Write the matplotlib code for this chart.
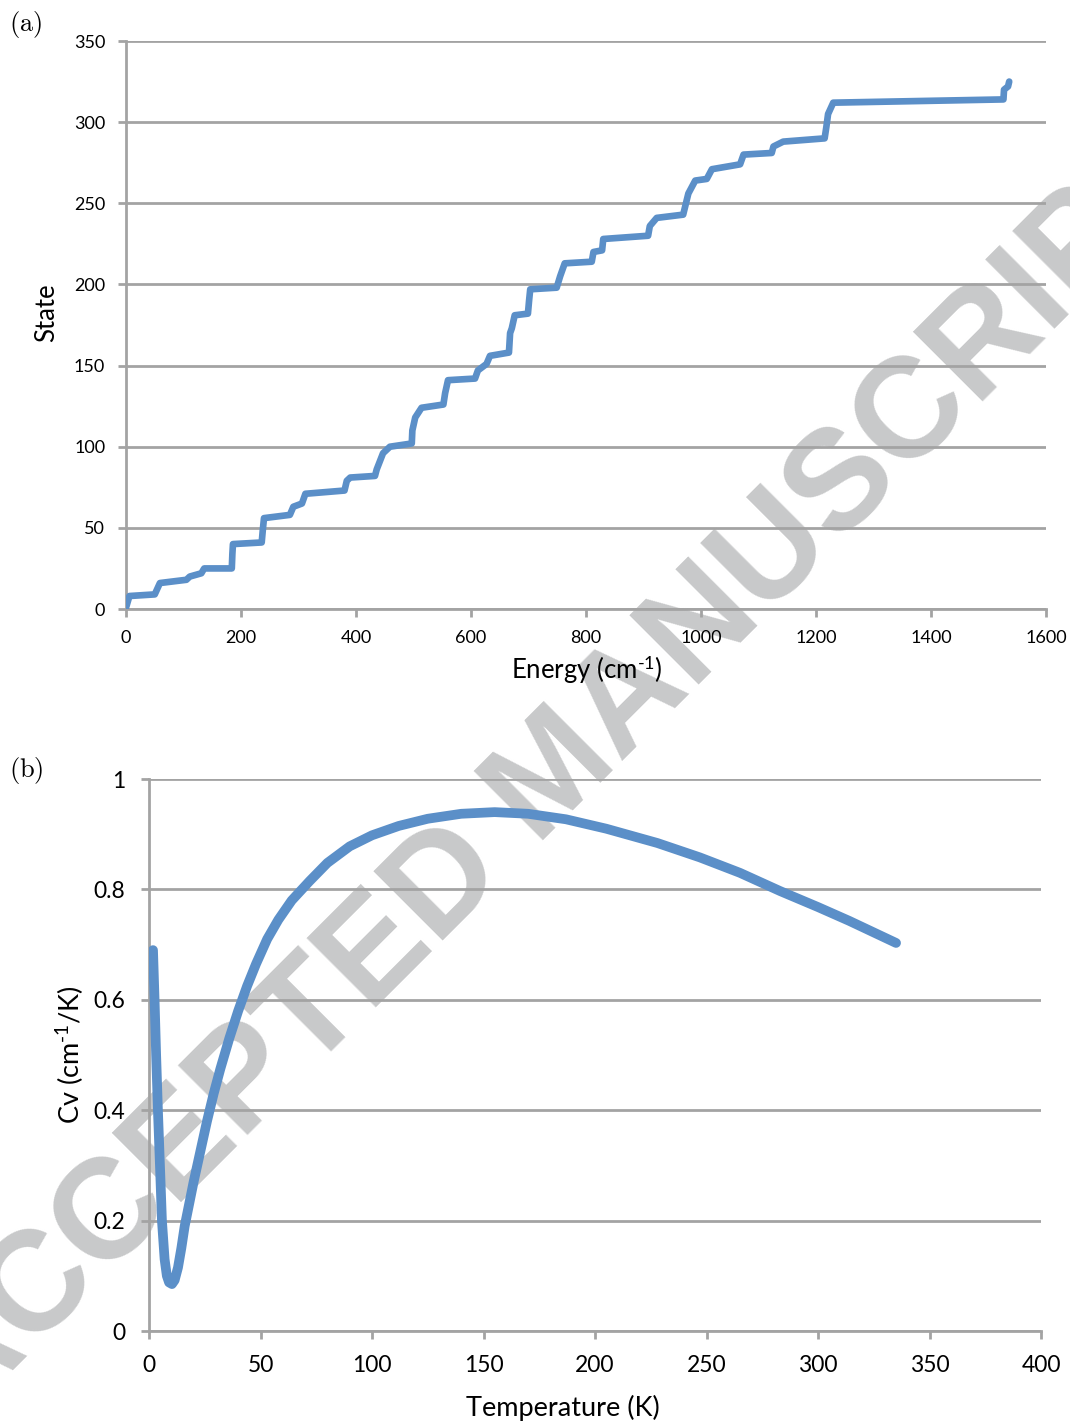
import matplotlib
matplotlib.use("Agg")
import matplotlib.pyplot as plt
import matplotlib.ticker as ticker

plt.rcParams['font.family'] = ['Lato', 'DejaVu Sans']
plt.rcParams['mathtext.fontset'] = 'custom'
plt.rcParams['mathtext.rm'] = 'Lato'
plt.rcParams['mathtext.it'] = 'Lato:italic'
plt.rcParams['mathtext.bf'] = 'Lato:bold'

# (a) cumulative state count vs energy (breakpoints)
energy = [0, 1, 6, 50, 59, 105, 111, 131, 136, 184, 185, 186, 236, 238, 240,
          285, 291, 306, 312, 380, 384, 390, 433, 436, 447, 459, 497, 498, 503,
          514, 552, 555, 560, 607, 612, 627, 633, 666, 668, 671, 676, 699, 701,
          703, 749, 755, 763, 810, 813, 828, 830, 908, 911, 923, 969, 978, 990,
          1010, 1019, 1068, 1074, 1123, 1126, 1143, 1215, 1218, 1221, 1230,
          1526, 1527, 1534, 1536]
state = [1, 2, 8, 9, 16, 18, 20, 22, 25, 25, 34, 40, 41, 49, 56,
         58, 63, 65, 71, 73, 79, 81, 82, 86, 96, 100, 102, 110, 118,
         124, 126, 133, 141, 142, 147, 151, 156, 158, 170, 173, 181, 182, 190,
         197, 198, 205, 213, 214, 220, 221, 228, 230, 236, 241, 243, 256, 264,
         265, 271, 274, 280, 281, 285, 288, 290, 297, 305, 312,
         314, 320, 322, 325]

# (b) heat capacity vs temperature
temperature = [1.8, 2.5, 3.2, 4.0, 5.0, 5.8, 7.0, 8.0, 9.0, 10.3, 11.5, 13, 14.5,
               16, 18, 20, 23, 26, 29, 32, 36, 40, 44, 48, 53, 58, 64, 72, 80, 90,
               100, 112, 125, 140, 155, 170, 187, 205, 228, 247, 265, 283, 300,
               314, 335]
cv = [0.69, 0.60, 0.50, 0.40, 0.29, 0.20, 0.13, 0.10, 0.088, 0.085, 0.092, 0.115,
      0.15, 0.19, 0.23, 0.27, 0.325, 0.38, 0.43, 0.475, 0.53, 0.58, 0.625, 0.665,
      0.71, 0.745, 0.78, 0.815, 0.848, 0.878, 0.898, 0.915, 0.928, 0.937, 0.94,
      0.937, 0.927, 0.91, 0.884, 0.858, 0.83, 0.797, 0.768, 0.743, 0.703]

line_color = '#5b8fc8'
grid_color = '#a3a3a3'

fig = plt.figure(figsize=(10.7, 14.26), dpi=100)

# watermark behind everything
fig.text(0.519, 0.456, "ACCEPTED MANUSCRIPT", rotation=45, ha='center', va='center',
         rotation_mode='anchor', fontsize=102, fontweight='bold', color='#c8c9ca',
         family='Liberation Sans', zorder=-5)


def style_axes(ax, tick_size, pad):
    ax.set_facecolor('none')
    for side in ('top', 'right'):
        ax.spines[side].set_visible(False)
    for side in ('left', 'bottom'):
        ax.spines[side].set_color(grid_color)
        ax.spines[side].set_linewidth(2)
    ax.yaxis.grid(True, color=grid_color, linewidth=2)
    ax.set_axisbelow(True)
    ax.tick_params(direction='out', length=6, width=2, color=grid_color,
                   labelsize=tick_size, pad=pad)


ax1 = fig.add_axes([126 / 1070, 1 - 609 / 1426, 920 / 1070, 568 / 1426])
style_axes(ax1, 13, 9)
ax1.plot(energy, state, color=line_color, linewidth=4.8, solid_capstyle='round',
         solid_joinstyle='round', zorder=3)
ax1.set_xlim(0, 1600)
ax1.set_ylim(0, 350)
ax1.set_xticks(range(0, 1601, 200))
ax1.set_yticks(range(0, 351, 50))
ax1.set_xlabel(r'Energy (cm$^{\text{-1}}$)', fontsize=18.5, va='center')
ax1.xaxis.set_label_coords(0.501, -0.107)
ax1.set_ylabel('State', fontsize=18.5, va='center')
ax1.yaxis.set_label_coords(-0.086, 0.521)

ax2 = fig.add_axes([149 / 1070, 1 - 1331 / 1426, 892 / 1070, 552 / 1426])
style_axes(ax2, 16.5, 11)
ax2.plot(temperature, cv, color=line_color, linewidth=7, solid_capstyle='round',
         solid_joinstyle='round', zorder=3)
ax2.set_xlim(0, 400)
ax2.set_ylim(0, 1)
ax2.set_xticks(range(0, 401, 50))
ax2.set_yticks([0, 0.2, 0.4, 0.6, 0.8, 1.0])
ax2.yaxis.set_major_formatter(ticker.FuncFormatter(lambda v, p: '%g' % v))
ax2.set_xlabel('Temperature (K)', fontsize=19.5, va='center')
ax2.xaxis.set_label_coords(0.464, -0.1395)
ax2.set_ylabel(r'Cv (cm$^{\text{-1}}$/K)', fontsize=19.5, va='center')
ax2.yaxis.set_label_coords(-0.0886, 0.5)

fig.text(9 / 1070, 1 - 25 / 1426, r'$(\mathrm{a})$', math_fontfamily='cm',
         fontsize=19, ha='left', va='center')
fig.text(9 / 1070, 1 - 771 / 1426, r'$(\mathrm{b})$', math_fontfamily='cm',
         fontsize=19, ha='left', va='center')

fig.savefig('out.png', dpi=100)
